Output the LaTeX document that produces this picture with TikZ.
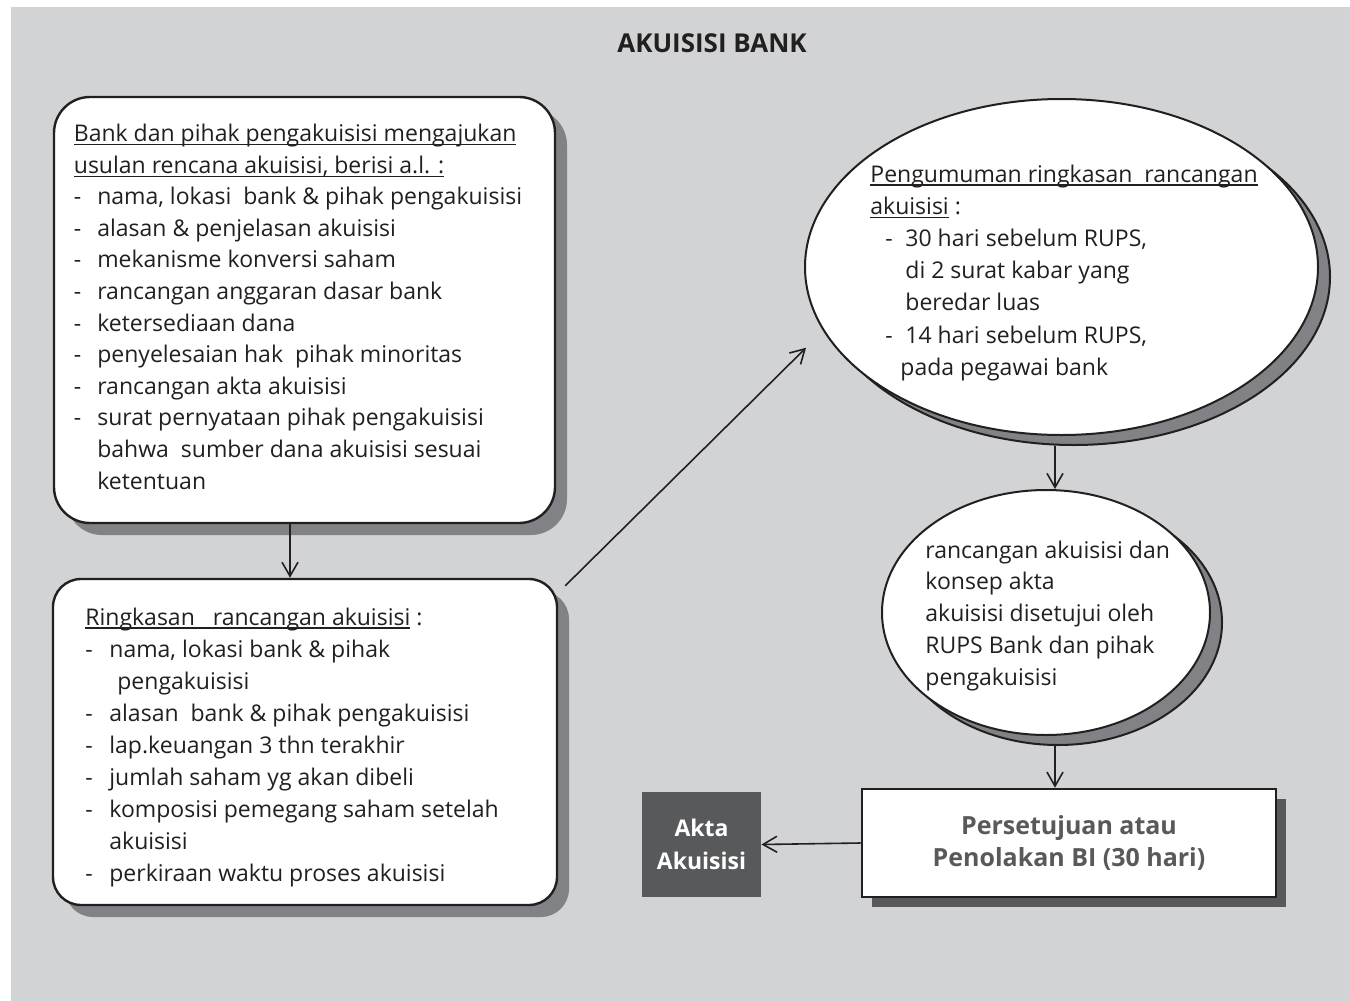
\documentclass[tikz,border=0pt]{standalone}
\usepackage{fontspec}
\setmainfont{Open Sans}
\usetikzlibrary{arrows.meta}
\usetikzlibrary{shapes.geometric}
\usetikzlibrary{shadows}

\definecolor{panelgray}{HTML}{D1D3D4}
\definecolor{shadegray}{HTML}{808285}
\definecolor{aktagray}{HTML}{58595B}
\definecolor{inkblack}{HTML}{231F20}

\newcommand{\dashitem}[2][11.7pt]{\makebox[#1][l]{-}#2}
\newcommand{\ulinetext}[1]{\setbox0\hbox{#1}\rlap{\rule[-1.8pt]{\wd0}{0.6pt}}\box0\relax}

\tikzset{
  roundbox/.style={draw=inkblack, line width=1.2pt, fill=white, rounded corners=14pt,
    drop shadow={shadow xshift=6pt, shadow yshift=-6pt, fill=shadegray, opacity=1}},
  bubble/.style={ellipse, draw=inkblack, line width=1pt, fill=white, inner sep=0pt,
    drop shadow={shadow xshift=6pt, shadow yshift=-5pt, fill=shadegray, draw=inkblack, opacity=1}},
  resultbox/.style={draw=inkblack, line width=1.3pt, fill=white, align=center, text=aktagray,
    font=\bfseries\fontsize{12.5pt}{16pt}\selectfont,
    drop shadow={shadow xshift=5pt, shadow yshift=-5pt, fill=aktagray, opacity=1}},
  aktabox/.style={fill=aktagray, text=white, align=center,
    font=\bfseries\fontsize{11.5pt}{16.5pt}\selectfont},
  arr/.style={-{Straight Barb[length=7pt,width=8pt]}, line width=0.8pt, draw=inkblack},
  txt/.style={anchor=base west, inner sep=0pt},
}

\begin{document}
\begin{tikzpicture}[x=0.5pt, y=-0.5pt, font=\fontsize{11.5pt}{15.8pt}\selectfont, text=inkblack]
  \useasboundingbox (0,0) rectangle (1350,1001);
  \fill[panelgray] (11,7) rectangle (1350,1001);

  \node[font=\bfseries\fontsize{13pt}{15pt}\selectfont, anchor=base] (title) at (712,52) {AKUISISI BANK};

  % shapes
  \node[roundbox, rounded corners=18pt, minimum width=250.5pt, minimum height=213pt] (usulan) at (304.5,310) {};
  \node[roundbox, minimum width=252pt, minimum height=163pt] (ringkas) at (305,742) {};
  \node[bubble, minimum width=256.5pt, minimum height=168pt] (ann) at (1061.5,267) {};
  \node[bubble, minimum width=164pt, minimum height=122.5pt] (circ) at (1046,612.5) {};
  \node[resultbox, minimum width=207pt, minimum height=54pt] (res) at (1069,843) {Persetujuan atau\\Penolakan BI (30 hari)};
  \node[aktabox, minimum width=59.5pt, minimum height=52.5pt] (akta) at (701.5,844.5) {Akta\\Akuisisi};

  % texts
  \node[txt] (usulantext) at (73.5,141.5) {\vtop{\baselineskip=15.8pt
    \hbox{\ulinetext{Bank dan pihak pengakuisisi mengajukan}}
    \hbox{\ulinetext{usulan rencana akuisisi, berisi a.l. :}}
    \hbox{\dashitem{nama, lokasi\ \ bank \& pihak pengakuisisi}}
    \hbox{\dashitem{alasan \& penjelasan akuisisi}}
    \hbox{\dashitem{mekanisme konversi saham}}
    \hbox{\dashitem{rancangan anggaran dasar bank}}
    \hbox{\dashitem{ketersediaan dana}}
    \hbox{\dashitem{penyelesaian hak\ \ pihak minoritas}}
    \hbox{\dashitem{rancangan akta akuisisi}}
    \hbox{\dashitem{surat pernyataan pihak pengakuisisi}}
    \hbox{\hspace{11.7pt}bahwa\ \ sumber dana akuisisi sesuai}
    \hbox{\hspace{11.7pt}ketentuan}}};

  \node[txt] (ringkastext) at (85,625) {\vtop{\baselineskip=16pt
    \hbox{\ulinetext{Ringkasan\ \ \ rancangan akuisisi}\ :}
    \hbox{\dashitem[12pt]{nama, lokasi bank \& pihak}}
    \hbox{\hspace{16pt}pengakuisisi}
    \hbox{\dashitem[12pt]{alasan\ \ bank \& pihak pengakuisisi}}
    \hbox{\dashitem[12pt]{lap.keuangan 3 thn terakhir}}
    \hbox{\dashitem[12pt]{jumlah saham yg akan dibeli}}
    \hbox{\dashitem[12pt]{komposisi pemegang saham setelah}}
    \hbox{\hspace{12pt}akuisisi}
    \hbox{\dashitem[12pt]{perkiraan waktu proses akuisisi}}}};

  \node[txt] (anntext) at (870,182) {\vtop{\baselineskip=16.1pt
    \hbox{\ulinetext{Pengumuman ringkasan\ \ rancangan}}
    \hbox{\ulinetext{akuisisi}\ :}
    \hbox{\hspace{7.5pt}\dashitem[10pt]{30 hari sebelum RUPS,}}
    \hbox{\hspace{17.5pt}di 2 surat kabar yang}
    \hbox{\hspace{17.5pt}beredar luas}
    \hbox{\hspace{7.5pt}\dashitem[10pt]{14 hari sebelum RUPS,}}
    \hbox{\hspace{15pt}pada pegawai bank}}};

  \node[txt] (circtext) at (925,558) {\vtop{\baselineskip=15.9pt
    \hbox{rancangan akuisisi dan}
    \hbox{konsep akta}
    \hbox{akuisisi disetujui oleh}
    \hbox{RUPS Bank dan pihak}
    \hbox{pengakuisisi}}};

  % connectors
  \coordinate (leftline) at (290,0);
  \coordinate (rightline) at (1055,0);
  \draw[arr] (usulan.south -| leftline) -- (ringkas.north -| leftline);
  \draw[arr, shorten >=12pt] ([xshift=3.5pt,yshift=-4pt]ringkas.north east) -- (ann.195);
  \draw[arr, shorten <=5pt] (ann.south -| rightline) -- (circ.north -| rightline);
  \draw[arr, shorten <=5pt] (circ.south -| rightline) -- (res.north -| rightline);
  \draw[arr] (res.west) -- (akta.east);
\end{tikzpicture}
\end{document}
